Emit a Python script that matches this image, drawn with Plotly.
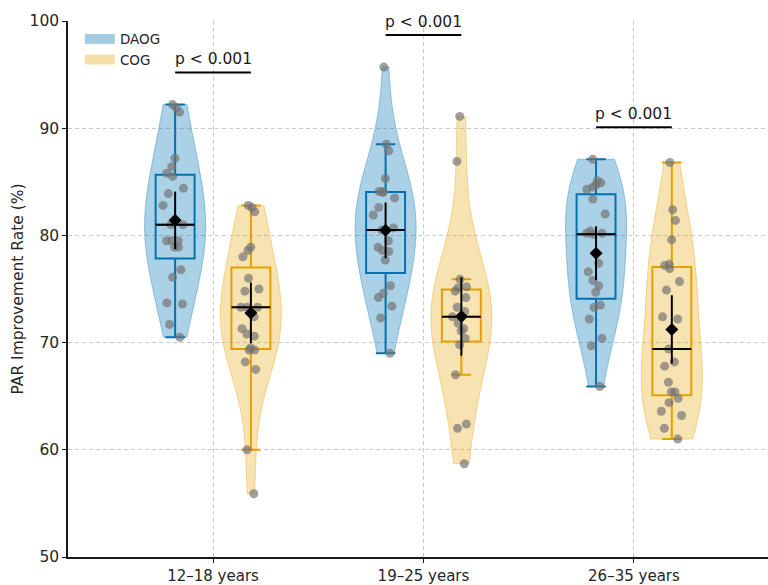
import numpy as np
import plotly.graph_objects as go

# ---------------- data ----------------
categories = ["12–18 years", "19–25 years", "26–35 years"]
groups = ["DAOG", "COG"]

daog_12_18 = [92.2, 91.9, 91.5, 87.2, 86.4, 85.8, 85.5, 84.4, 83.9, 82.8, 81.0, 81.0,
              79.5, 79.5, 79.5, 78.9, 78.9, 76.8, 76.1, 73.7, 73.6, 71.7, 70.5]
cog_12_18 = [82.8, 82.6, 82.2, 78.9, 78.6, 78.0, 76.0, 75.0, 74.8, 73.3, 73.3, 73.3,
             72.4, 71.3, 70.8, 70.6, 69.5, 69.3, 69.3, 68.2, 67.5, 60.0, 55.9]
daog_19_25 = [95.7, 88.5, 87.9, 85.3, 84.1, 84.1, 84.0, 83.5, 82.6, 81.9, 80.7, 80.5,
              79.5, 78.9, 78.6, 78.5, 77.7, 75.3, 74.6, 74.2, 73.4, 72.3, 69.0]
cog_19_25 = [91.1, 86.9, 75.9, 75.2, 75.1, 74.8, 74.2, 73.3, 72.9, 72.4, 71.8, 71.3,
             71.1, 70.4, 69.8, 67.0, 62.4, 62.0, 58.7]
daog_26_35 = [87.1, 85.1, 84.9, 84.7, 84.5, 84.3, 83.4, 82.0, 80.4, 80.2, 80.2, 80.1,
              77.4, 76.6, 75.8, 75.3, 74.7, 73.5, 73.3, 72.2, 70.4, 69.7, 65.9]
cog_26_35 = [86.8, 82.4, 81.4, 79.6, 77.3, 77.2, 76.9, 75.7, 74.9, 72.4, 72.2, 69.4,
             68.2, 67.8, 66.3, 65.4, 65.4, 64.8, 64.4, 63.6, 63.2, 62.0, 61.0]

p_labels = ["p < 0.001", "p < 0.001", "p < 0.001"]

data = {
    "DAOG": [daog_12_18, daog_19_25, daog_26_35],
    "COG": [cog_12_18, cog_19_25, cog_26_35],
}

# ---------------- styles ----------------
FONT = "DejaVu Sans"
line_colors = {"DAOG": "#0072B2", "COG": "#E69F00"}
fill_colors = {"DAOG": "rgba(0,114,178,0.33)", "COG": "rgba(230,159,0,0.30)"}
edge_colors = {"DAOG": "rgba(0,114,178,0.35)", "COG": "rgba(230,159,0,0.35)"}
legend_colors = {"DAOG": "rgba(0,114,178,0.36)", "COG": "rgba(230,159,0,0.34)"}
offsets = {"DAOG": -0.18, "COG": 0.18}
violin_width = 0.29
box_width = 0.185
bw_scale = 1.25
T95 = {17: 2.110, 18: 2.101, 19: 2.093, 20: 2.086, 21: 2.080, 22: 2.074, 23: 2.069, 24: 2.064}


def stats(vals):
    a = np.asarray(vals, dtype=float)
    q1, med, q3 = np.percentile(a, [25, 50, 75])
    iqr = q3 - q1
    lf = a[a >= q1 - 1.5 * iqr].min()
    uf = a[a <= q3 + 1.5 * iqr].max()
    n = len(a)
    sd = a.std(ddof=1)
    ci = T95.get(n - 1, 1.96) * sd / np.sqrt(n)
    bw = bw_scale * sd * n ** (-1 / 5)
    return dict(q1=q1, med=med, q3=q3, lf=lf, uf=uf, mean=a.mean(), ci=ci, bw=bw)


fig = go.Figure()

# violins
for g in groups:
    for i, vals in enumerate(data[g]):
        pos = i + offsets[g]
        s = stats(vals)
        fig.add_trace(go.Violin(
            x=[pos] * len(vals), y=vals, name=g, showlegend=False,
            fillcolor=fill_colors[g], line=dict(color=edge_colors[g], width=1),
            width=violin_width, spanmode="hard", bandwidth=s["bw"], scalemode="width",
            points=False, box_visible=False, meanline_visible=False, hoverinfo="skip",
        ))

# boxes (1.5 IQR whiskers)
for g in groups:
    for i, vals in enumerate(data[g]):
        pos = i + offsets[g]
        s = stats(vals)
        fig.add_trace(go.Box(
            x=[pos], q1=[s["q1"]], median=[s["med"]], q3=[s["q3"]],
            lowerfence=[s["lf"]], upperfence=[s["uf"]],
            width=box_width, whiskerwidth=0.5, boxpoints=False,
            line=dict(color=line_colors[g], width=2), fillcolor="rgba(0,0,0,0)",
            showlegend=False, hoverinfo="skip",
        ))

# jittered points
for g in groups:
    for i, vals in enumerate(data[g]):
        pos = i + offsets[g]
        fig.add_trace(go.Box(
            x=[pos] * len(vals), y=vals, boxpoints="all", jitter=0.65, pointpos=0,
            width=box_width, line=dict(width=0, color="rgba(0,0,0,0)"),
            fillcolor="rgba(0,0,0,0)",
            marker=dict(color="rgba(115,115,115,0.68)", size=9),
            showlegend=False, hoverinfo="y",
        ))

# medians (black lines) and means with 95% CI
mx, my, ex, ey, ee = [], [], [], [], []
for g in groups:
    for i, vals in enumerate(data[g]):
        pos = i + offsets[g]
        s = stats(vals)
        mx += [pos - box_width / 2, pos + box_width / 2, None]
        my += [s["med"], s["med"], None]
        ex.append(pos)
        ey.append(s["mean"])
        ee.append(s["ci"])

fig.add_trace(go.Scatter(x=mx, y=my, mode="lines", line=dict(color="black", width=2),
                         showlegend=False, hoverinfo="skip"))
fig.add_trace(go.Scatter(
    x=ex, y=ey, mode="markers",
    marker=dict(symbol="diamond", size=10, color="black"),
    error_y=dict(type="data", array=ee, color="black", thickness=2, width=0),
    showlegend=False,
))

# significance brackets
bx, by = [], []
for i, lab in enumerate(p_labels):
    top = max(max(data["DAOG"][i]), max(data["COG"][i])) + 3
    bx += [i + offsets["DAOG"], i + offsets["COG"], None]
    by += [top, top, None]
    fig.add_annotation(x=i, y=top, text=lab, showarrow=False, yanchor="bottom",
                       yshift=2, font=dict(family=FONT, size=15.5, color="#1a1a1a"))
fig.add_trace(go.Scatter(x=bx, y=by, mode="lines", line=dict(color="black", width=2),
                         showlegend=False, hoverinfo="skip"))

# legend entries (patch-like thick swatches)
for g in groups:
    fig.add_trace(go.Scatter(x=[None], y=[None], mode="lines", name=g,
                             line=dict(color=legend_colors[g], width=10),
                             showlegend=True, hoverinfo="skip"))

axis_common = dict(
    showgrid=True, gridcolor="#c9c9c9", gridwidth=1, griddash="4px,3px",
    showline=True, linecolor="#1a1a1a", linewidth=1.5, zeroline=False,
    ticks="outside", ticklen=4, tickwidth=1.2, tickcolor="#1a1a1a",
    tickfont=dict(family=FONT, size=15.5, color="#262626"),
)

fig.update_layout(
    width=768, height=585,
    margin=dict(l=68, r=0, t=21, b=22),
    plot_bgcolor="white", paper_bgcolor="white",
    violinmode="overlay", boxmode="overlay",
    font=dict(family=FONT, color="#262626"),
    xaxis=dict(range=[-0.689, 2.637], tickmode="array", tickvals=[0, 1, 2],
               ticktext=categories, **{**axis_common,
                                        "tickfont": dict(family=FONT, size=15, color="#262626")}),
    yaxis=dict(range=[50, 100], tickmode="linear", tick0=50, dtick=10,
               title=dict(text="PAR Improvement Rate (%)", standoff=2,
                          font=dict(family=FONT, size=15.5, color="#262626")),
               **axis_common),
    legend=dict(x=0.017, y=0.995, xanchor="left", yanchor="top", tracegroupgap=0,
                bgcolor="rgba(255,255,255,0)", font=dict(family=FONT, size=13.5, color="#262626")),
)

fig.write_html("out.html")
